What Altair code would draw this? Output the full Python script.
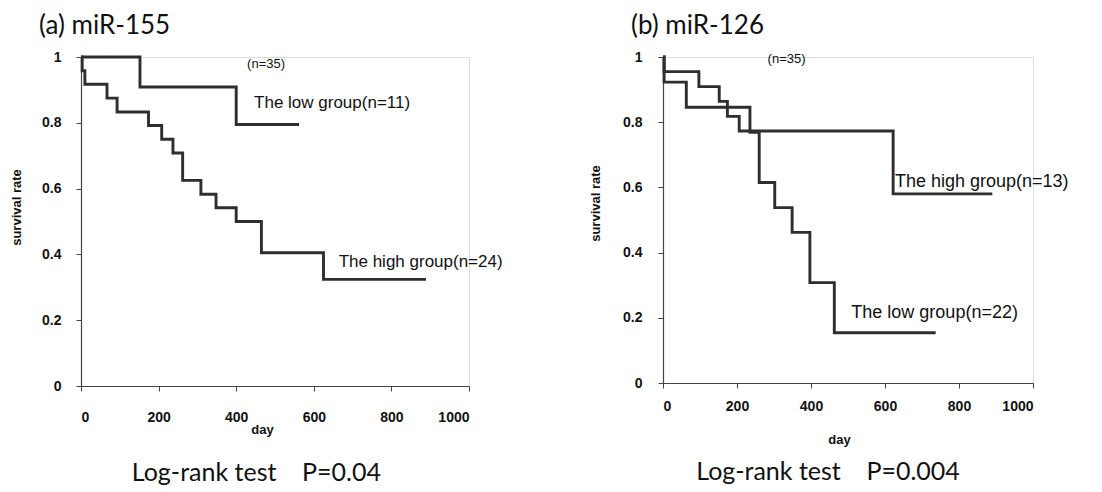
import altair as alt
import pandas as pd

# ---------------- data ----------------
# (a) miR-155
a_low_day = [0, 152, 400, 562]
a_low_rate = [1.0, 0.909, 0.795, 0.795]
a_high_day = [0, 3, 10, 67, 93, 174, 208, 237, 262, 309, 348, 400, 465, 625, 889]
a_high_rate = [1.0, 0.958, 0.917, 0.875, 0.833, 0.792, 0.75, 0.708, 0.625,
               0.583, 0.542, 0.5, 0.405, 0.324, 0.324]

# (b) miR-126
b_high_day = [0, 3, 97, 152, 174, 206, 622, 890]
b_high_rate = [1.0, 0.955, 0.909, 0.864, 0.818, 0.773, 0.58, 0.58]
b_low_day = [0, 3, 63, 235, 260, 302, 349, 397, 463, 737]
b_low_rate = [1.0, 0.923, 0.846, 0.769, 0.615, 0.538, 0.462, 0.308, 0.154, 0.154]

x_ticks = [0, 200, 400, 600, 800, 1000]
y_ticks = [0, 0.2, 0.4, 0.6, 0.8, 1.0]

a_title = "(a) miR-155"
b_title = "(b) miR-126"
a_labels = ["The low group(n=11)", "The high group(n=24)"]
b_labels = ["The high group(n=13)", "The low group(n=22)"]
n_total = "(n=35)"
a_test = "Log-rank test\u00a0\u00a0\u00a0\u00a0P=0.04"
b_test = "Log-rank test\u00a0\u00a0\u00a0\u00a0P=0.004"

# annotation anchors in data units (day, survival rate)
a_label_pos = [(446, 0.859), (664, 0.376)]
b_label_pos = [(627, 0.618), (509, 0.215)]
a_n_pos = (477, 0.98)
b_n_pos = (334, 0.995)
a_test_pos = (452, -0.265)
b_test_pos = (446, -0.273)

LINE = "#2e2e2e"
AXIS = "#444444"


def curves_df(d1, r1, g1, d2, r2, g2):
    return pd.concat([
        pd.DataFrame({"day": d1, "rate": r1, "group": g1}),
        pd.DataFrame({"day": d2, "rate": r2, "group": g2}),
    ])


def panel(df, title, title_dx, labels, label_pos, label_size, n_pos, test, test_pos,
          width, height, xlab_pad, day_x, day_y, ylab_pad, ytitle_x, ytitle_y):
    xs = alt.Scale(domain=[0, 1000], nice=False, zero=True)
    ys = alt.Scale(domain=[0, 1], nice=False)
    x_axis = alt.Axis(values=x_ticks, format="d", title="day", grid=False,
                      labelFont="Liberation Sans", labelFontSize=14, labelFontWeight="bold",
                      labelColor="#111", labelPadding=xlab_pad, tickSize=5,
                      tickColor=AXIS, domainColor=AXIS, domainWidth=1.2,
                      titleFont="Liberation Sans", titleFontSize=13, titleFontWeight="bold",
                      titleColor="#111", titleX=day_x, titleY=day_y,
                      titleBaseline="middle", titleAlign="center")
    y_axis = alt.Axis(values=y_ticks, format=".1~f", title="survival rate", grid=False,
                      labelFont="Liberation Sans", labelFontSize=14, labelFontWeight="bold",
                      labelColor="#111", labelPadding=ylab_pad, tickSize=5,
                      tickColor=AXIS, domainColor=AXIS, domainWidth=1.2,
                      titleFont="Liberation Sans", titleFontSize=13, titleFontWeight="bold",
                      titleColor="#111", titleX=ytitle_x, titleY=ytitle_y)

    lines = alt.Chart(df).mark_line(
        interpolate="step-after", color=LINE, strokeWidth=2.9
    ).encode(
        x=alt.X("day:Q", scale=xs, axis=x_axis),
        y=alt.Y("rate:Q", scale=ys, axis=y_axis),
        detail="group:N",
    )

    lab_df = pd.DataFrame({
        "day": [p[0] for p in label_pos],
        "rate": [p[1] for p in label_pos],
        "text": labels,
    })
    lab = alt.Chart(lab_df).mark_text(
        align="left", baseline="middle", font="Liberation Sans", fontSize=label_size, color="#111"
    ).encode(x=alt.X("day:Q", scale=xs), y=alt.Y("rate:Q", scale=ys), text="text:N")

    n_df = pd.DataFrame({"day": [n_pos[0]], "rate": [n_pos[1]], "text": [n_total]})
    nmark = alt.Chart(n_df).mark_text(
        align="center", baseline="middle", font="Liberation Sans", fontSize=13, color="#111"
    ).encode(x=alt.X("day:Q", scale=xs), y=alt.Y("rate:Q", scale=ys), text="text:N")

    t_df = pd.DataFrame({"day": [test_pos[0]], "rate": [test_pos[1]], "text": [test]})
    tmark = alt.Chart(t_df).mark_text(
        align="center", baseline="middle", font="Lato", fontSize=25, color="#111"
    ).encode(x=alt.X("day:Q", scale=xs), y=alt.Y("rate:Q", scale=ys), text="text:N")

    return alt.layer(lines, lab, nmark, tmark).properties(
        width=width, height=height,
        title=alt.Title(title, anchor="start", frame="group", dx=title_dx,
                        font="Lato", fontSize=26, fontWeight="normal", color="#111",
                        offset=11),
    )


left = panel(curves_df(a_low_day, a_low_rate, "low", a_high_day, a_high_rate, "high"),
             a_title, -42, a_labels, a_label_pos, 17, a_n_pos, a_test, a_test_pos,
             width=388, height=329, xlab_pad=19, day_x=181, day_y=43,
             ylab_pad=15, ytitle_x=-58, ytitle_y=150)

right = panel(curves_df(b_high_day, b_high_rate, "high", b_low_day, b_low_rate, "low"),
              b_title, -32, b_labels, b_label_pos, 18, b_n_pos, b_test, b_test_pos,
              width=370, height=326, xlab_pad=11, day_x=176, day_y=56,
              ylab_pad=16, ytitle_x=-61, ytitle_y=146)

chart = alt.hconcat(left, right, spacing=194, bounds="flush").properties(
    padding={"left": 1, "top": 4, "right": 2, "bottom": 0}
).configure_view(stroke=None).configure(background="white")

chart.save("out.html", embed_options={"renderer": "svg", "actions": False})
